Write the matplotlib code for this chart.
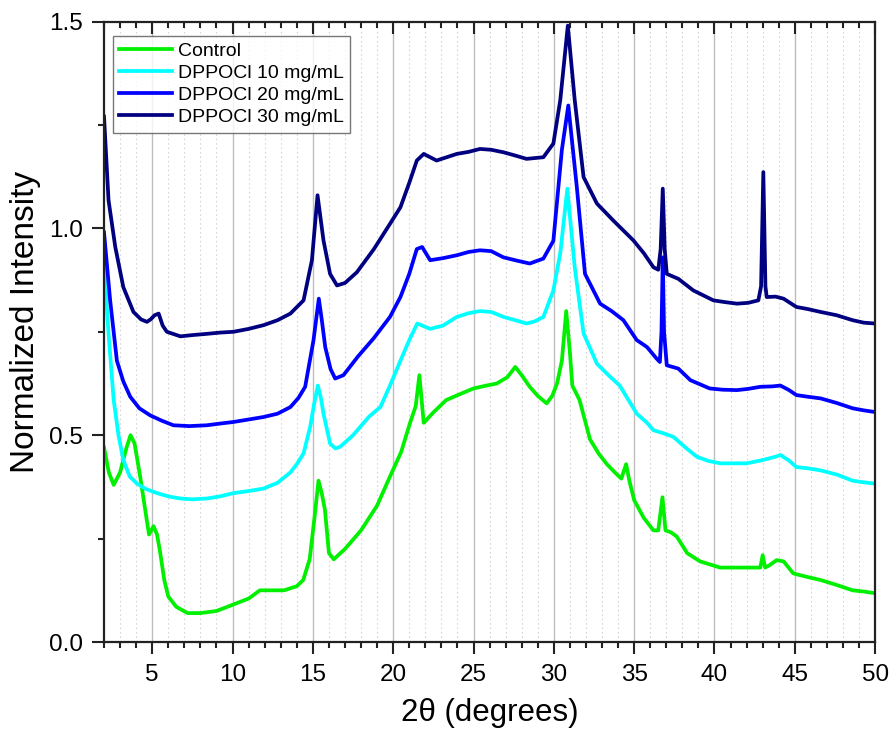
import numpy as np
import matplotlib
matplotlib.use("Agg")
import matplotlib.pyplot as plt
from matplotlib.ticker import MultipleLocator, FormatStrFormatter

plt.rcParams["font.family"] = ["Liberation Sans", "DejaVu Sans"]

# XRD patterns, (2theta, normalized intensity) pairs
control_x = [2.0, 2.3, 2.6, 3.0, 3.4, 3.65, 3.9, 4.25, 4.6, 4.8, 5.08, 5.3, 5.5, 5.75, 6.0,
             6.5, 7.2, 8.0, 9.0, 10.0, 11.0, 11.7, 12.5, 13.2, 14.0, 14.4, 14.8, 15.1, 15.35,
             15.55, 15.75, 16.0, 16.3, 17.0, 18.0, 19.0, 19.8, 20.5, 21.05, 21.4, 21.63, 21.9,
             22.5, 23.3, 24.2, 25.0, 25.8, 26.45, 27.1, 27.6, 28.0, 28.5, 29.0, 29.55, 29.9,
             30.2, 30.5, 30.77, 31.0, 31.15, 31.6, 32.25, 32.8, 33.3, 33.8, 34.2, 34.5, 34.7,
             35.0, 35.6, 36.2, 36.5, 36.76, 36.95, 37.3, 37.65, 38.3, 39.1, 40.35, 41.4, 42.4,
             42.85, 43.0, 43.15, 43.4, 43.87, 44.3, 44.9, 45.7, 46.6, 47.6, 48.6, 49.3, 50.0]
control_y = [0.47, 0.41, 0.38, 0.41, 0.47, 0.50, 0.48, 0.40, 0.31, 0.26, 0.28, 0.26, 0.215, 0.15, 0.11,
             0.085, 0.07, 0.07, 0.075, 0.09, 0.105, 0.125, 0.125, 0.125, 0.135, 0.15, 0.20, 0.30, 0.39,
             0.36, 0.32, 0.215, 0.20, 0.225, 0.27, 0.33, 0.40, 0.46, 0.53, 0.57, 0.645, 0.53,
             0.555, 0.585, 0.60, 0.613, 0.62, 0.625, 0.64, 0.665, 0.645, 0.617, 0.595, 0.577, 0.595,
             0.625, 0.68, 0.80, 0.70, 0.62, 0.585, 0.49, 0.455, 0.43, 0.41, 0.395, 0.43, 0.39,
             0.343, 0.30, 0.27, 0.27, 0.35, 0.27, 0.265, 0.255, 0.215, 0.195, 0.18, 0.18, 0.18,
             0.18, 0.21, 0.18, 0.185, 0.198, 0.195, 0.166, 0.158, 0.15, 0.138, 0.125, 0.122, 0.118]

dp10_x = [2.0, 2.28, 2.6, 2.9, 3.2, 3.6, 4.05, 4.6, 5.3, 6.0, 6.75, 7.5, 8.4, 9.2, 10.06, 11.0,
          11.93, 12.8, 13.6, 14.0, 14.42, 14.83, 15.1, 15.31, 15.5, 15.66, 16.07, 16.4, 16.7, 17.5,
          18.5, 19.2, 19.8, 20.45, 21.0, 21.5, 22.3, 23.1, 23.96, 24.7, 25.4, 26.1, 26.86, 27.6,
          28.3, 28.8, 29.35, 29.97, 30.4, 30.84, 31.3, 31.85, 32.68, 33.4, 34.1, 35.16, 35.8,
          36.2, 36.8, 37.44, 38.2, 38.9, 39.6, 40.35, 41.2, 42.0, 43.0, 43.8, 44.1, 44.6, 45.1,
          45.8, 46.6, 47.6, 48.6, 49.3, 50.0]
dp10_y = [0.92, 0.745, 0.585, 0.50, 0.44, 0.40, 0.383, 0.37, 0.36, 0.352, 0.347, 0.345, 0.347, 0.352,
          0.36, 0.365, 0.371, 0.385, 0.41, 0.43, 0.456, 0.52, 0.58, 0.62, 0.59, 0.552, 0.48, 0.468, 0.472,
          0.50, 0.545, 0.568, 0.62, 0.68, 0.73, 0.77, 0.757, 0.765, 0.786, 0.795, 0.80, 0.798, 0.786,
          0.778, 0.77, 0.775, 0.786, 0.85, 0.94, 1.096, 0.906, 0.746, 0.673, 0.645, 0.62, 0.552,
          0.53, 0.512, 0.505, 0.496, 0.47, 0.448, 0.438, 0.432, 0.432, 0.432, 0.44, 0.448, 0.452,
          0.44, 0.423, 0.42, 0.415, 0.405, 0.39, 0.386, 0.383]

dp20_x = [2.0, 2.38, 2.8, 3.2, 3.63, 4.2, 4.87, 5.6, 6.32, 7.3, 8.4, 9.2, 10.06, 11.0, 11.93,
          12.8, 13.6, 14.1, 14.52, 15.04, 15.37, 15.55, 15.77, 16.1, 16.39, 16.9, 17.8, 18.8,
          19.8, 20.45, 21.0, 21.47, 21.8, 22.3, 23.1, 23.96, 24.7, 25.4, 26.1, 26.86, 27.7,
          28.5, 29.35, 29.97, 30.5, 30.9, 31.43, 31.94, 32.88, 33.6, 34.33, 35.16, 35.8, 36.4,
          36.6, 36.7, 36.78, 36.86, 37.03, 37.75, 38.5, 39.7, 40.5, 41.4, 42.1, 42.85, 43.6,
          44.1, 44.6, 45.1, 45.8, 46.6, 47.6, 48.6, 49.3, 50.0]
dp20_y = [0.99, 0.826, 0.68, 0.63, 0.593, 0.565, 0.548, 0.535, 0.524, 0.522, 0.524, 0.528, 0.532,
          0.538, 0.544, 0.552, 0.568, 0.59, 0.617, 0.73, 0.83, 0.78, 0.713, 0.66, 0.637, 0.645,
          0.69, 0.735, 0.786, 0.834, 0.89, 0.95, 0.955, 0.923, 0.928, 0.935, 0.943, 0.947, 0.945,
          0.93, 0.922, 0.915, 0.927, 0.97, 1.19, 1.297, 1.10, 0.89, 0.818, 0.80, 0.778, 0.73,
          0.713, 0.685, 0.677, 0.75, 0.93, 0.75, 0.669, 0.661, 0.633, 0.613, 0.61, 0.609, 0.612,
          0.617, 0.618, 0.62, 0.61, 0.597, 0.593, 0.589, 0.578, 0.565, 0.56, 0.556]

dp30_x = [2.0, 2.28, 2.7, 3.2, 3.83, 4.3, 4.67, 4.9, 5.15, 5.4, 5.65, 5.91, 6.75, 7.5, 8.4,
          9.2, 10.06, 11.0, 11.93, 12.8, 13.6, 14.42, 14.94, 15.29, 15.66, 16.07, 16.5, 17.0,
          17.74, 18.8, 19.8, 20.45, 21.0, 21.47, 21.9, 22.7, 23.96, 24.7, 25.4, 26.1, 26.86,
          27.6, 28.3, 29.35, 29.97, 30.4, 30.87, 31.3, 31.85, 32.68, 33.7, 34.95, 35.6, 36.2,
          36.5, 36.65, 36.78, 36.9, 37.03, 37.75, 38.68, 39.93, 40.6, 41.4, 42.1, 42.73, 42.9,
          43.04, 43.17, 43.25, 43.8, 44.3, 45.1, 45.8, 46.6, 47.6, 48.6, 49.3, 50.0]
dp30_y = [1.27, 1.068, 0.955, 0.858, 0.798, 0.78, 0.774, 0.78, 0.79, 0.794, 0.765, 0.75, 0.739,
          0.742, 0.745, 0.748, 0.75, 0.757, 0.766, 0.778, 0.794, 0.826, 0.923, 1.08, 0.971, 0.89,
          0.862, 0.868, 0.894, 0.95, 1.011, 1.051, 1.11, 1.164, 1.18, 1.164, 1.18, 1.185, 1.192,
          1.19, 1.184, 1.176, 1.168, 1.172, 1.205, 1.31, 1.49, 1.31, 1.124, 1.06, 1.019, 0.971,
          0.94, 0.906, 0.90, 0.95, 1.096, 0.95, 0.89, 0.878, 0.85, 0.826, 0.822, 0.818, 0.82,
          0.826, 0.86, 1.136, 0.86, 0.834, 0.835, 0.83, 0.81, 0.805, 0.798, 0.79, 0.778, 0.772, 0.77]

labels = ["Control", "DPPOCl 10 mg/mL", "DPPOCl 20 mg/mL", "DPPOCl 30 mg/mL"]
colors = ["#00f000", "#00ffff", "#0000ff", "#000080"]

fig = plt.figure(figsize=(8.93, 7.30), dpi=100)
ax = fig.add_axes([0.1165, 0.1205, 0.8635, 0.850])

# vertical grid: solid at major ticks, dotted at every degree
for v in range(3, 50):
    if v % 5 == 0:
        ax.axvline(v, color="#bdbdbd", lw=1.0, zorder=0)
    else:
        ax.axvline(v, color="#d6d6d6", lw=0.8, ls=(0, (1.5, 2.5)), zorder=0)

series = [(control_x, control_y), (dp10_x, dp10_y), (dp20_x, dp20_y), (dp30_x, dp30_y)]
for (xs, ys), lab, c in zip(series, labels, colors):
    ax.plot(xs, ys, color=c, lw=2.7, label=lab, solid_joinstyle="round")

ax.set_xlim(2, 50)
ax.set_ylim(0, 1.5)
ax.xaxis.set_major_locator(MultipleLocator(5))
ax.xaxis.set_minor_locator(MultipleLocator(1))
ax.yaxis.set_major_locator(MultipleLocator(0.5))
ax.yaxis.set_minor_locator(MultipleLocator(0.25))
ax.yaxis.set_major_formatter(FormatStrFormatter("%.1f"))

for s in ax.spines.values():
    s.set_linewidth(1.6)
    s.set_color("#222222")

ax.tick_params(axis="both", which="both", direction="out", top=True, right=False,
               labelsize=17.5, width=1.5, color="#222222", pad=7)
ax.tick_params(axis="both", which="major", length=8.5)
ax.tick_params(axis="both", which="minor", length=4)

# top ticks point into the plot
for t in ax.xaxis.get_major_ticks() + ax.xaxis.get_minor_ticks():
    t.tick2line.set_marker(3)

ax.set_xlabel("2θ (degrees)", fontsize=22.5)
ax.set_ylabel("Normalized Intensity", fontsize=24)
ax.xaxis.set_label_coords(0.5, -0.09)
ax.yaxis.set_label_coords(-0.082, 0.516)

leg = ax.legend(loc="upper left", bbox_to_anchor=(0.011, 0.977), fontsize=14, frameon=True,
                fancybox=False, edgecolor="#555555", handlelength=2.7, borderpad=0.35,
                labelspacing=0.22, handletextpad=0.3, borderaxespad=0.0)
leg.get_frame().set_linewidth(1.0)

fig.savefig("out.png", dpi=100)
